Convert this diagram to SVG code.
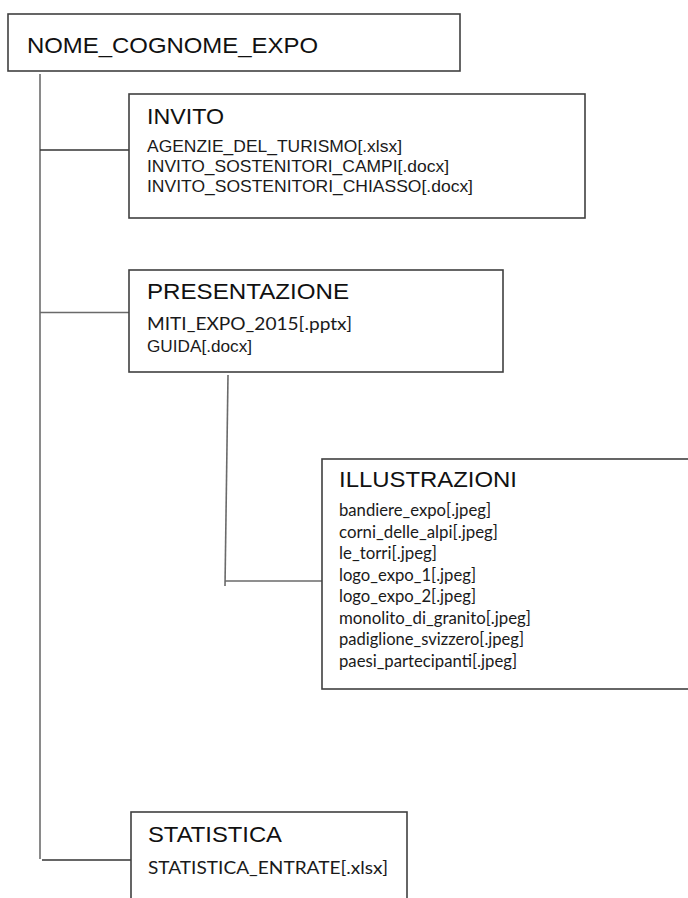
<svg xmlns="http://www.w3.org/2000/svg" width="688" height="898" viewBox="0 0 688 898">
<style>
  .box{fill:#ffffff;stroke:#404040;stroke-width:1.6}
  .title{font-family:"Liberation Sans",Arial,sans-serif;font-size:21.5px;fill:#111111}
  .ia{font-family:"Liberation Sans",Arial,sans-serif;font-size:17.3px;fill:#1a1a1a}
  .ic{font-family:Lato,"Open Sans","Liberation Sans",sans-serif;font-size:17.5px;fill:#1a1a1a}
  .trunk{stroke:#8a8a8a;stroke-width:2;fill:none}
  .link{stroke:#333333;stroke-width:1.3;fill:none}
  .glink{stroke:#6a6a6a;stroke-width:1.6;fill:none}
</style>
<rect width="688" height="898" fill="#ffffff"/>
<g id="connectors">
  <line class="trunk" x1="40" y1="74" x2="40" y2="859"/>
  <line class="link" x1="40" y1="150" x2="129" y2="150"/>
  <line class="glink" x1="40" y1="312.5" x2="129" y2="312.5"/>
  <line class="link" x1="42" y1="860" x2="132" y2="860"/>
  <line class="glink" x1="228" y1="375" x2="225" y2="586"/>
  <line class="glink" x1="225" y1="581" x2="322" y2="581"/>
</g>
<g id="root">
  <rect class="box" x="8" y="14" width="452" height="57"/>
  <text class="title" x="27" y="53" textLength="291" lengthAdjust="spacingAndGlyphs">NOME_COGNOME_EXPO</text>
</g>
<g id="invito">
  <rect class="box" x="129" y="94" width="456" height="124"/>
  <text class="title" x="147" y="124" textLength="77" lengthAdjust="spacingAndGlyphs">INVITO</text>
  <text class="ia" x="147" y="152" textLength="255" lengthAdjust="spacingAndGlyphs">AGENZIE_DEL_TURISMO[.xlsx]</text>
  <text class="ia" x="147" y="172" textLength="302" lengthAdjust="spacingAndGlyphs">INVITO_SOSTENITORI_CAMPI[.docx]</text>
  <text class="ia" x="147" y="192" textLength="326" lengthAdjust="spacingAndGlyphs">INVITO_SOSTENITORI_CHIASSO[.docx]</text>
</g>
<g id="presentazione">
  <rect class="box" x="129" y="270" width="374" height="102"/>
  <text class="title" x="147" y="299" textLength="202" lengthAdjust="spacingAndGlyphs">PRESENTAZIONE</text>
  <text class="ic" x="147" y="330" font-size="20" textLength="205" lengthAdjust="spacingAndGlyphs">MITI_EXPO_2015[.pptx]</text>
  <text class="ia" x="147" y="352" textLength="105" lengthAdjust="spacingAndGlyphs">GUIDA[.docx]</text>
</g>
<g id="illustrazioni">
  <rect class="box" x="322" y="459" width="380" height="230"/>
  <text class="title" x="339" y="487" textLength="178" lengthAdjust="spacingAndGlyphs">ILLUSTRAZIONI</text>
  <text class="ic" x="339" y="516" textLength="152" lengthAdjust="spacingAndGlyphs">bandiere_expo[.jpeg]</text>
  <text class="ic" x="339" y="537.5" textLength="159" lengthAdjust="spacingAndGlyphs">corni_delle_alpi[.jpeg]</text>
  <text class="ic" x="339" y="559" textLength="98" lengthAdjust="spacingAndGlyphs">le_torri[.jpeg]</text>
  <text class="ic" x="339" y="580.5" textLength="137" lengthAdjust="spacingAndGlyphs">logo_expo_1[.jpeg]</text>
  <text class="ic" x="339" y="602" textLength="137" lengthAdjust="spacingAndGlyphs">logo_expo_2[.jpeg]</text>
  <text class="ic" x="339" y="623.5" textLength="192" lengthAdjust="spacingAndGlyphs">monolito_di_granito[.jpeg]</text>
  <text class="ic" x="339" y="645" textLength="185" lengthAdjust="spacingAndGlyphs">padiglione_svizzero[.jpeg]</text>
  <text class="ic" x="339" y="667" textLength="178" lengthAdjust="spacingAndGlyphs">paesi_partecipanti[.jpeg]</text>
</g>
<g id="statistica">
  <rect class="box" x="131" y="812" width="276" height="100"/>
  <text class="title" x="148" y="842" textLength="134" lengthAdjust="spacingAndGlyphs">STATISTICA</text>
  <text class="ic" x="148" y="874" font-size="19" textLength="240" lengthAdjust="spacingAndGlyphs">STATISTICA_ENTRATE[.xlsx]</text>
</g>
</svg>
